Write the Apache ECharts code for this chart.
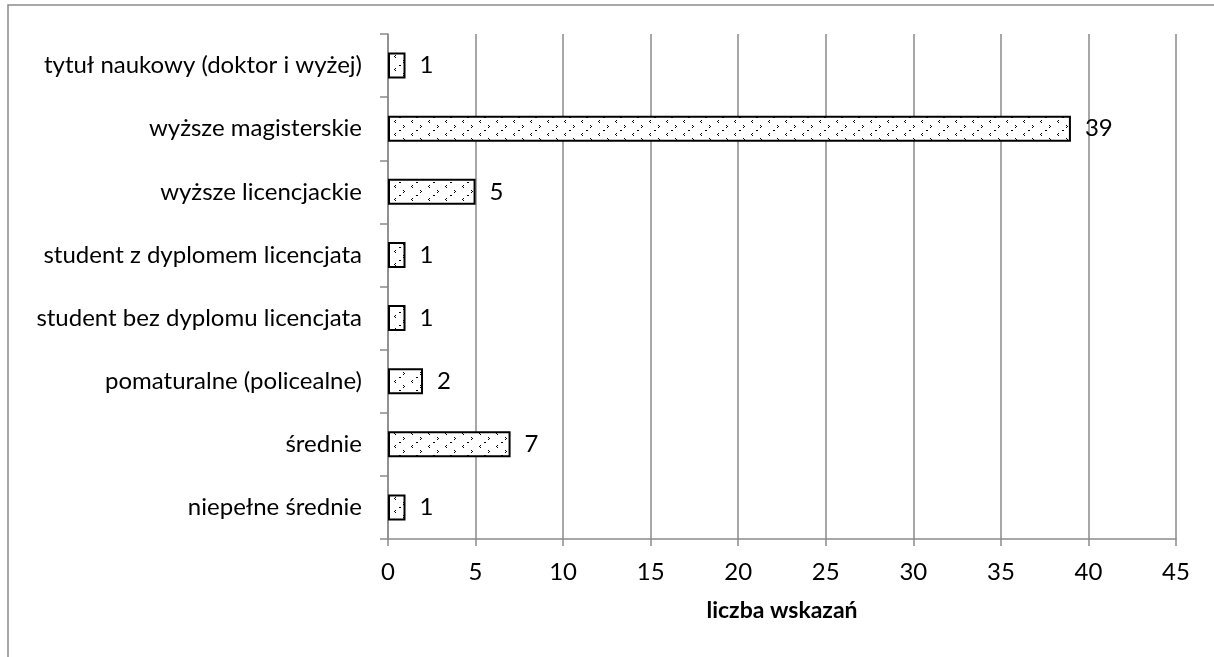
<!DOCTYPE html>
<html>
<head>
<meta charset="utf-8">
<script src="https://cdn.jsdelivr.net/npm/echarts@6/dist/echarts.min.js"></script>
<style>
  html, body { margin: 0; padding: 0; background: #fff; }
  #chart { width: 1214px; height: 657px; }
</style>
</head>
<body>
<div id="chart"></div>
<script>
// dane z wykresu
var categories = [
  'tytuł naukowy (doktor i wyżej)',
  'wyższe magisterskie',
  'wyższe licencjackie',
  'student z dyplomem licencjata',
  'student bez dyplomu licencjata',
  'pomaturalne (policealne)',
  'średnie',
  'niepełne średnie'
];
var values = [1, 39, 5, 1, 1, 2, 7, 1];
var xTicks = [0, 5, 10, 15, 20, 25, 30, 35, 40, 45];
var axisName = 'liczba wskazań';

var FONT = 'Lato';
var FS = 24;
var GRAY = '#8a8a8a';

// wzór kropkowany jak w Excelu
function makePattern() {
  var c = document.createElement('canvas');
  c.width = 17; c.height = 13;
  var g = c.getContext('2d');
  g.fillStyle = '#fff';
  g.fillRect(0, 0, 17, 13);
  g.fillStyle = '#000';
  // kropka
  g.fillRect(8, 0, 2, 1);
  // "<"
  g.fillRect(4, 3, 1, 1);
  g.fillRect(3, 4, 1, 1);
  g.fillRect(4, 5, 1, 1);
  // ">"
  g.fillRect(12, 8, 1, 1);
  g.fillRect(13, 9, 1, 1);
  g.fillRect(12, 10, 1, 1);
  return c;
}

var myChart = echarts.init(document.getElementById('chart'));
var option = {
  backgroundColor: '#fff',
  animation: false,
  textStyle: { fontFamily: FONT },
  graphic: [{
    type: 'rect',
    shape: { x: 8, y: 5, width: 1400, height: 900 },
    style: { fill: 'none', stroke: GRAY, lineWidth: 1.5 },
    silent: true
  }],
  grid: { left: 388, right: 38, top: 34, bottom: 118 },
  xAxis: {
    type: 'value',
    min: xTicks[0],
    max: xTicks[xTicks.length - 1],
    interval: 5,
    name: axisName,
    nameLocation: 'middle',
    nameGap: 60,
    nameTextStyle: { fontFamily: FONT, fontSize: 23, fontWeight: 'bold', color: '#000' },
    axisLine: { show: true, lineStyle: { color: GRAY, width: 1.5 } },
    axisTick: { show: true, length: 7, lineStyle: { color: GRAY, width: 1.5 } },
    splitLine: { show: true, lineStyle: { color: GRAY, width: 1.5 } },
    axisLabel: { fontFamily: FONT, fontSize: FS, color: '#000', margin: 21 }
  },
  yAxis: {
    type: 'category',
    inverse: true,
    data: categories,
    axisLine: { show: true, lineStyle: { color: GRAY, width: 1.5 } },
    axisTick: { show: true, length: 8, lineStyle: { color: GRAY, width: 1.5 } },
    axisLabel: { fontFamily: FONT, fontSize: FS, color: '#000', margin: 26 }
  },
  series: [{
    type: 'bar',
    data: values,
    barWidth: 26,
    itemStyle: {
      color: { image: makePattern(), repeat: 'repeat' },
      borderColor: '#000',
      borderWidth: 2
    },
    label: {
      show: true,
      position: 'right',
      distance: 14,
      fontFamily: FONT,
      fontSize: FS,
      color: '#000'
    }
  }]
};
myChart.setOption(option);
</script>
</body>
</html>
